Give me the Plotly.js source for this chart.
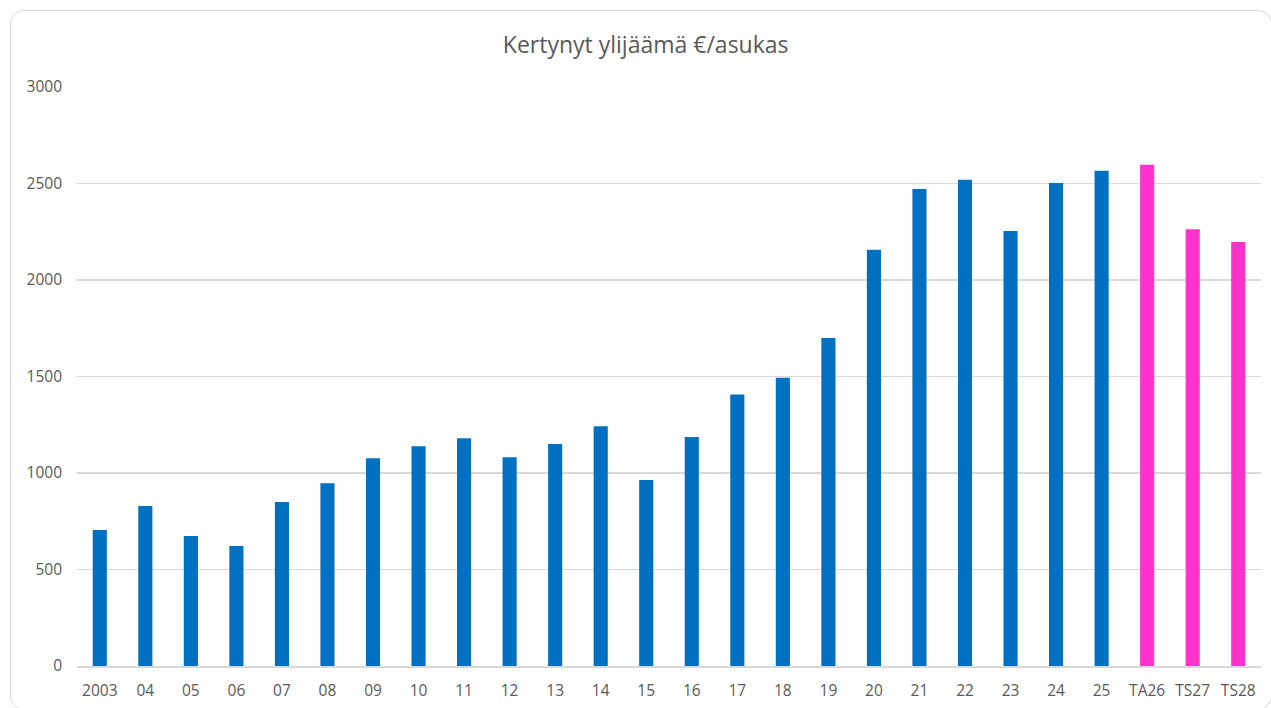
<!DOCTYPE html>
<html>
<head>
<meta charset="utf-8">
<script src="https://cdn.plot.ly/plotly-3.0.1.min.js"></script>
<style>
  html, body { margin: 0; padding: 0; background: #ffffff; }
  #frame { position: absolute; left: 10px; top: 10px; width: 1262px; height: 700px;
           border: 1.5px solid #d9d9d9; border-radius: 14px; box-sizing: border-box; }
  #chart { position: absolute; left: 0; top: 0; width: 1271px; height: 708px; }
</style>
</head>
<body>
<div id="frame"></div>
<div id="chart"></div>
<script>
const categories = ["2003","04","05","06","07","08","09","10","11","12","13","14","15","16","17","18","19","20","21","22","23","24","25","TA26","TS27","TS28"];
const values = [705, 829, 674, 622, 850, 947, 1076, 1138, 1180, 1081, 1150, 1242, 964, 1187, 1407, 1493, 1700, 2157, 2472, 2519, 2254, 2503, 2566, 2597, 2263, 2197];
const forecastLabels = ["TA26","TS27","TS28"];
const actualColor = "#0070c0";
const forecastColor = "#ff33cc";

const colors = categories.map(c => forecastLabels.includes(c) ? forecastColor : actualColor);

const trace = {
  type: "bar",
  x: categories,
  y: values,
  marker: { color: colors, line: { width: 0 } },
  hoverinfo: "x+y"
};

const layout = {
  width: 1271,
  height: 708,
  margin: { l: 77, r: 10, t: 87, b: 42 },
  paper_bgcolor: "rgba(0,0,0,0)",
  plot_bgcolor: "rgba(0,0,0,0)",
  bargap: 0.69,
  showlegend: false,
  font: { family: "Open Sans, sans-serif", color: "#595959", size: 15 },
  title: {
    text: "Kertynyt ylijäämä €/asukas",
    font: { family: "Open Sans, sans-serif", size: 23, color: "#595959" },
    x: 0.508, xanchor: "center",
    y: 1 - 45/708, yref: "container", yanchor: "middle"
  },
  xaxis: {
    type: "category",
    tickfont: { size: 15.5, color: "#595959" },
    showgrid: false,
    showline: true,
    linecolor: "#d9d9d9",
    linewidth: 1.5,
    ticks: "",
    ticklabelstandoff: 10
  },
  yaxis: {
    range: [0, 3000],
    tickvals: [0, 500, 1000, 1500, 2000, 2500, 3000],
    tickfont: { size: 15.5, color: "#595959" },
    showgrid: true,
    gridcolor: "#d9d9d9",
    gridwidth: 1.5,
    zeroline: false,
    showline: false,
    ticks: "",
    ticklabelstandoff: 14
  }
};

Plotly.newPlot("chart", [trace], layout, { displayModeBar: false, staticPlot: true });
</script>
</body>
</html>
